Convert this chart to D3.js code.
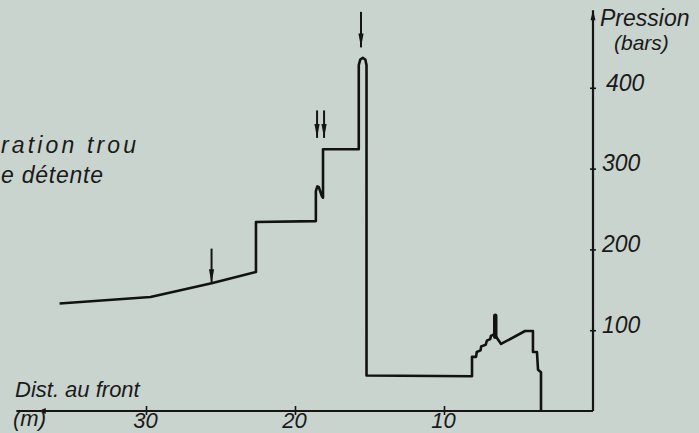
<!DOCTYPE html>
<html>
<head>
<meta charset="utf-8">
<script src="https://cdn.jsdelivr.net/npm/d3@7"></script>
<style>
  body { margin: 0; background: #c9d4cf; }
  svg { display: block; }
  text { font-family: "Liberation Sans", Arial, sans-serif; font-style: italic; fill: #1a1a1a; }
</style>
</head>
<body>
<svg width="699" height="433"></svg>
<script>
// distance to the front (m) and pressure (bars)
const curveDist = [35.8, 29.7, 25.6, 22.62, 22.62, 18.6, 18.6, 18.5, 18.4, 18.2, 18.12, 18.12, 15.72, 15.72, 15.62, 15.45, 15.28, 15.2, 15.2,
  8.12, 8.12, 7.85, 7.8, 7.55, 7.5, 7.2, 7.12, 6.9, 6.85, 6.62, 6.5, 6.17, 4.56, 4.03, 4.03, 3.76, 3.69, 3.49, 3.49]
const curvePres = [133, 141, 158, 172, 234, 235, 272, 278, 277, 266, 264, 324, 324, 428, 435, 437, 435, 428, 44,
  43, 67, 67, 73, 75, 80, 82, 87, 89, 93, 95, 92, 83, 99, 99, 73, 73, 51, 48, 0]

// pressure peak drawn as a thick stroke
const spikeDist = [6.56, 6.56]
const spikePres = [92, 118]

// arrows: position (m), top and tip (bars)
const arrowDist = [25.6, 18.52, 18.05, 15.57]
const arrowTop = [201, 372, 372, 494]
const arrowTip = [158, 338, 338, 450]

const distTicks = [30, 20, 10]
const presTicks = [100, 200, 300, 400]

const svg = d3.select("svg")

const x = d3.scaleLinear().domain([0, 40]).range([593, -3])
const y = d3.scaleLinear().domain([0, 500]).range([411, 7])

// axes lines
svg.append("line")
  .attr("x1", x(38.7)).attr("x2", x(0))
  .attr("y1", y(0)).attr("y2", y(0))
  .attr("stroke", "#151515").attr("stroke-width", 2.2)
svg.append("line")
  .attr("x1", x(0)).attr("x2", x(0))
  .attr("y1", y(0)).attr("y2", y(496))
  .attr("stroke", "#151515").attr("stroke-width", 2.2)
// small arrowheads on the axes
svg.append("path")
  .attr("d", `M${x(37.2)},${y(0)} l7,-3 l0,6 z`)
  .attr("fill", "#151515")
svg.append("path")
  .attr("d", `M${x(0)},${y(496)} l-2.5,10 l5,0 z`)
  .attr("fill", "#151515")

const xAxis = svg.append("g")
  .attr("transform", `translate(0, ${y(0)})`)
  .call(d3.axisBottom(x).tickValues(distTicks).tickSize(4).tickFormat(d3.format("d")))
xAxis.select(".domain").remove()
xAxis.selectAll(".tick line").attr("y1", -5).attr("stroke", "#151515").attr("stroke-width", 1.6)
xAxis.selectAll(".tick text")
  .attr("y", 17).attr("dy", 0).attr("x", -1)
  .attr("font-size", "22px").attr("font-family", null)

const yAxis = svg.append("g")
  .attr("transform", `translate(${x(0)}, 0)`)
  .call(d3.axisRight(y).tickValues(presTicks).tickSize(3).tickPadding(6))
yAxis.select(".domain").remove()
yAxis.selectAll(".tick line").attr("x1", -3).attr("stroke", "#151515").attr("stroke-width", 1.6)
yAxis.selectAll(".tick text")
  .attr("dy", "0.1em").attr("x", d => d == 400 ? 13 : 9)
  .attr("font-size", "23px").attr("font-family", null)

// pressure trace
const pts = curveDist.map((d, i) => [d, curvePres[i]])
const line = d3.line().x(d => x(d[0])).y(d => y(d[1]))
svg.append("path")
  .datum(pts)
  .attr("d", line)
  .attr("fill", "none")
  .attr("stroke", "#121212")
  .attr("stroke-width", 2.6)
  .attr("stroke-linejoin", "round")

svg.append("path")
  .datum(spikeDist.map((d, i) => [d, spikePres[i]]))
  .attr("d", line)
  .attr("stroke", "#121212")
  .attr("stroke-width", 4.5)
  .attr("stroke-linecap", "round")

// arrows
arrowDist.forEach(function(d, i) {
  const ax = x(d), y0 = y(arrowTop[i]), y1 = y(arrowTip[i])
  svg.append("line")
    .attr("x1", ax).attr("x2", ax).attr("y1", y0).attr("y2", y1)
    .attr("stroke", "#151515").attr("stroke-width", 2)
  svg.append("path")
    .attr("d", `M${ax},${y1} l-2.6,-14 l5.2,0 z`)
    .attr("fill", "#151515")
})

// labels
svg.append("text").attr("x", 600).attr("y", 26).attr("font-size", "23px").text("Pression")
svg.append("text").attr("x", 614).attr("y", 50).attr("font-size", "21px").text("(bars)")
svg.append("text").attr("x", 15).attr("y", 397).attr("font-size", "22px").text("Dist. au front")
svg.append("text").attr("x", 13).attr("y", 426).attr("font-size", "22px").text("(m)")
// the caption is cut by the left edge of the picture; only its visible part is kept
svg.append("text").attr("x", 1).attr("y", 153).attr("font-size", "23px")
  .attr("textLength", 135).attr("lengthAdjust", "spacing").text("ration trou")
svg.append("text").attr("x", 1).attr("y", 183).attr("font-size", "23px")
  .attr("textLength", 102).attr("lengthAdjust", "spacing").text("e détente")
</script>
</body>
</html>
